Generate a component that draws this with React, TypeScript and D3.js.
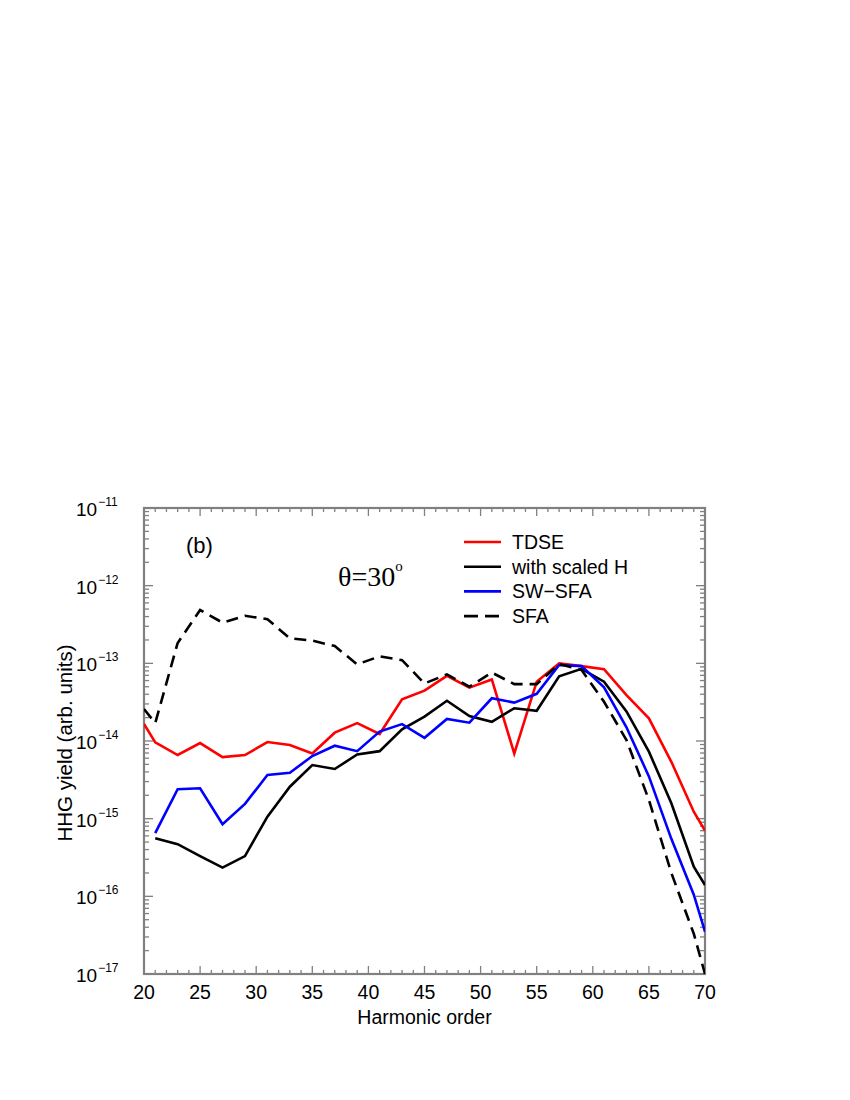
import React from "react";
import * as d3 from "d3";

const tdseH = [20, 21, 23, 25, 27, 29, 31, 33, 35, 37, 39, 41, 43, 45, 47, 49, 51, 53, 55, 57, 59, 61, 63, 65, 67, 69, 70];
const tdseY = [1.66e-14, 9.6e-15, 6.6e-15, 9.4e-15, 6.2e-15, 6.6e-15, 9.7e-15, 8.9e-15, 6.9e-15, 1.28e-14, 1.7e-14, 1.23e-14, 3.44e-14, 4.45e-14, 6.9e-14, 4.86e-14, 6.2e-14, 6.9e-15, 5.8e-14, 1.0e-13, 9.2e-14, 8.4e-14, 3.9e-14, 1.96e-14, 5.4e-15, 1.23e-15, 7.0e-16];

const scaledH = [21, 23, 25, 27, 29, 31, 33, 35, 37, 39, 41, 43, 45, 47, 49, 51, 53, 55, 57, 59, 61, 63, 65, 67, 69, 70];
const scaledY = [5.6e-16, 4.7e-16, 3.3e-16, 2.34e-16, 3.3e-16, 1.06e-15, 2.58e-15, 4.9e-15, 4.36e-15, 6.7e-15, 7.4e-15, 1.41e-14, 2.06e-14, 3.3e-14, 2.1e-14, 1.77e-14, 2.64e-14, 2.45e-14, 6.8e-14, 8.5e-14, 5.8e-14, 2.4e-14, 7.3e-15, 1.58e-15, 2.4e-16, 1.4e-16];

const swH = [21, 23, 25, 27, 29, 31, 33, 35, 37, 39, 41, 43, 45, 47, 49, 51, 53, 55, 57, 59, 61, 63, 65, 67, 69, 70];
const swY = [6.5e-16, 2.39e-15, 2.46e-15, 8.5e-16, 1.55e-15, 3.65e-15, 3.9e-15, 6.4e-15, 8.7e-15, 7.4e-15, 1.32e-14, 1.65e-14, 1.1e-14, 1.92e-14, 1.72e-14, 3.55e-14, 3.12e-14, 4.05e-14, 9.5e-14, 9.2e-14, 4.9e-14, 1.5e-14, 3.5e-15, 5.5e-16, 1.05e-16, 3.5e-17];

const sfaH = [20, 21, 23, 25, 27, 29, 31, 33, 35, 37, 39, 41, 43, 45, 47, 49, 51, 53, 55, 57, 59, 61, 63, 65, 67, 69, 70];
const sfaY = [2.58e-14, 1.7e-14, 1.83e-13, 4.86e-13, 3.34e-13, 4.1e-13, 3.7e-13, 2.1e-13, 1.96e-13, 1.67e-13, 9.7e-14, 1.23e-13, 1.1e-13, 5.5e-14, 7.2e-14, 5.0e-14, 7.6e-14, 5.4e-14, 5.4e-14, 9.8e-14, 8.2e-14, 3.2e-14, 1.03e-14, 1.74e-15, 2.0e-16, 3.3e-17, 1.0e-17];

const xTickLabels = [20, 25, 30, 35, 40, 45, 50, 55, 60, 65, 70];
const yDecades = [-11, -12, -13, -14, -15, -16, -17];

const seriesNames = ["TDSE", "with scaled H", "SW\u2212SFA", "SFA"];

const W = 850;
const H = 1100;
const left = 144;
const right = 705;
const top = 508;
const bottom = 974;

export default function App() {
  const x = d3.scaleLinear().domain([20, 70]).range([left, right]);
  const y = d3.scaleLog().domain([1e-17, 1e-11]).range([bottom, top]);
  const line = d3
    .line<[number, number]>()
    .x((d) => x(d[0]))
    .y((d) => y(d[1]));

  const series = [
    { name: seriesNames[0], h: tdseH, v: tdseY, color: "#ff0000", dash: "" },
    { name: seriesNames[1], h: scaledH, v: scaledY, color: "#000000", dash: "" },
    { name: seriesNames[2], h: swH, v: swY, color: "#0000ff", dash: "" },
    { name: seriesNames[3], h: sfaH, v: sfaY, color: "#000000", dash: "12,7" },
  ];

  const axisColor = "#808080";
  const xMinor = d3.range(20, 71, 1);
  const yMinor: number[] = [];
  for (let e = -17; e < -11; e++) {
    for (let m = 2; m <= 9; m++) yMinor.push(m * Math.pow(10, e));
  }

  const font = "'Liberation Sans', Arial, Helvetica, sans-serif";

  return (
    <svg width={W} height={H} style={{ position: "absolute", left: 0, top: 0 }}>
      <rect width={W} height={H} fill="#fff" />
      <defs>
        <clipPath id="plotclip">
          <rect x={left} y={top - 2} width={right - left} height={bottom - top + 4} />
        </clipPath>
      </defs>

      {/* x ticks */}
      {xMinor.map((h) => {
        const len = h % 5 === 0 ? 8 : 4;
        return (
          <g key={"xt" + h} stroke={axisColor} strokeWidth={1.3}>
            <line x1={x(h)} x2={x(h)} y1={bottom} y2={bottom - len} />
            <line x1={x(h)} x2={x(h)} y1={top} y2={top + len} />
          </g>
        );
      })}
      {/* y minor ticks */}
      {yMinor.map((v, i) => (
        <g key={"ym" + i} stroke={axisColor} strokeWidth={1.3}>
          <line x1={left} x2={left + 5} y1={y(v)} y2={y(v)} />
          <line x1={right} x2={right - 5} y1={y(v)} y2={y(v)} />
        </g>
      ))}
      {/* y major ticks */}
      {yDecades.map((e) => (
        <g key={"yM" + e} stroke={axisColor} strokeWidth={1.3}>
          <line x1={left} x2={left + 9} y1={y(Math.pow(10, e))} y2={y(Math.pow(10, e))} />
          <line x1={right} x2={right - 9} y1={y(Math.pow(10, e))} y2={y(Math.pow(10, e))} />
        </g>
      ))}

      {/* frame */}
      <rect x={left} y={top} width={right - left} height={bottom - top} fill="none" stroke={axisColor} strokeWidth={2.2} />

      {/* data */}
      <g clipPath="url(#plotclip)">
        {series.map((s) => (
          <path
            key={s.name}
            d={line(s.h.map((h, i) => [h, s.v[i]] as [number, number])) || ""}
            fill="none"
            stroke={s.color}
            strokeWidth={2.6}
            strokeDasharray={s.dash || undefined}
            strokeLinejoin="miter"
          />
        ))}
      </g>

      {/* x tick labels */}
      {xTickLabels.map((h) => (
        <text key={"xl" + h} x={x(h)} y={999} textAnchor="middle" fontFamily={font} fontSize={19.5} fill="#000">
          {h}
        </text>
      ))}
      {/* y tick labels */}
      {yDecades.map((e) => (
        <text key={"yl" + e} x={76} y={y(Math.pow(10, e)) + 8} fontFamily={font} fontSize={19} fill="#000">
          10
          <tspan fontSize={12} dy={-10} dx={1}>
            {"\u2212" + Math.abs(e)}
          </tspan>
        </text>
      ))}

      {/* axis titles */}
      <text x={(left + right) / 2} y={1024} textAnchor="middle" fontFamily={font} fontSize={19.5} fill="#000">
        Harmonic order
      </text>
      <text
        transform={`translate(72, 743) rotate(-90)`}
        textAnchor="middle"
        fontFamily={font}
        fontSize={20.5}
        fill="#000"
      >
        HHG yield (arb. units)
      </text>

      {/* panel label */}
      <text x={186} y={553} fontFamily={font} fontSize={22} fill="#000">
        (b)
      </text>
      <text x={338} y={586} fontFamily="'Liberation Serif', 'Times New Roman', serif" fontSize={28} fill="#000">
        {"\u03b8=30"}
        <tspan fontSize={15} dy={-15}>
          o
        </tspan>
      </text>

      {/* legend */}
      {series.map((s, i) => {
        const ly = 542 + i * 24.7;
        return (
          <g key={"lg" + i}>
            <line
              x1={464}
              x2={501}
              y1={ly}
              y2={ly}
              stroke={s.color}
              strokeWidth={2.6}
              strokeDasharray={s.dash ? "14,7" : undefined}
            />
            <text x={512} y={ly + 7} fontFamily={font} fontSize={19.5} fill="#000">
              {s.name}
            </text>
          </g>
        );
      })}
    </svg>
  );
}
